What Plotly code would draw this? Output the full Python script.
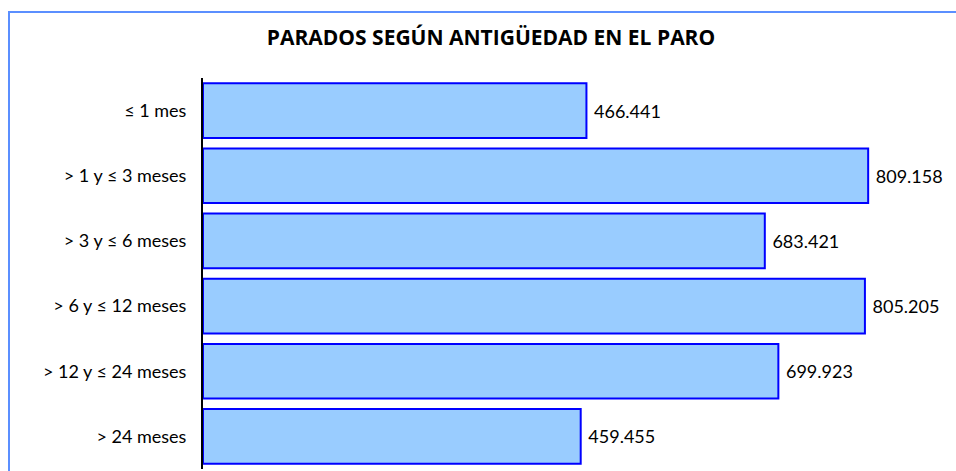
import plotly.graph_objects as go

categories = ["≤ 1 mes", "> 1 y ≤ 3 meses", "> 3 y ≤ 6 meses", "> 6 y ≤ 12 meses", "> 12 y ≤ 24 meses", "> 24 meses"]
values = [466441, 809158, 683421, 805205, 699923, 459455]
title_text = "PARADOS SEGÚN ANTIGÜEDAD EN EL PARO"

labels = [" " + f"{v:,}".replace(",", ".") for v in values]

W, H = 956, 471
ml, mr, mt, mb = 203, 0, 78, 2
pw, ph = W - ml - mr, H - mt - mb

fig = go.Figure(go.Bar(
    x=values, y=categories, orientation="h",
    marker=dict(color="#99CCFF", line=dict(color="#0000FF", width=2)),
    text=labels, textposition="outside", cliponaxis=False,
    textfont=dict(family="Lato", size=18, color="black"),
))

def px_x(p):
    return (p - ml) / pw

def px_y(p):
    return (H - mb - p) / ph

frame_color = "#5B8FFF"
fig.add_shape(type="path", xref="paper", yref="paper",
              path=f"M {px_x(9)} {px_y(H)} L {px_x(9)} {px_y(12)} L {px_x(W)} {px_y(12)}",
              line=dict(color=frame_color, width=2))

fig.update_layout(
    width=W, height=H,
    margin=dict(l=ml, r=mr, t=mt, b=mb),
    paper_bgcolor="white", plot_bgcolor="white",
    bargap=0.16,
    showlegend=False,
    title=dict(text="<b>" + title_text + "</b>", x=491 / W, xref="container", xanchor="center",
               y=1 - 38 / H, yref="container", yanchor="middle",
               font=dict(family="Open Sans", size=21, color="black")),
    xaxis=dict(range=[0, 916000], visible=False, showgrid=False, zeroline=False),
    yaxis=dict(autorange="reversed", showline=True, linecolor="black", linewidth=2,
               ticks="", showgrid=False, ticklabelstandoff=11,
               tickfont=dict(family="Lato", size=18, color="black")),
)

fig.write_html(
    "out.html",
    config={"displayModeBar": False},
    post_script="document.body.style.margin='0';document.body.style.overflow='hidden';",
)
